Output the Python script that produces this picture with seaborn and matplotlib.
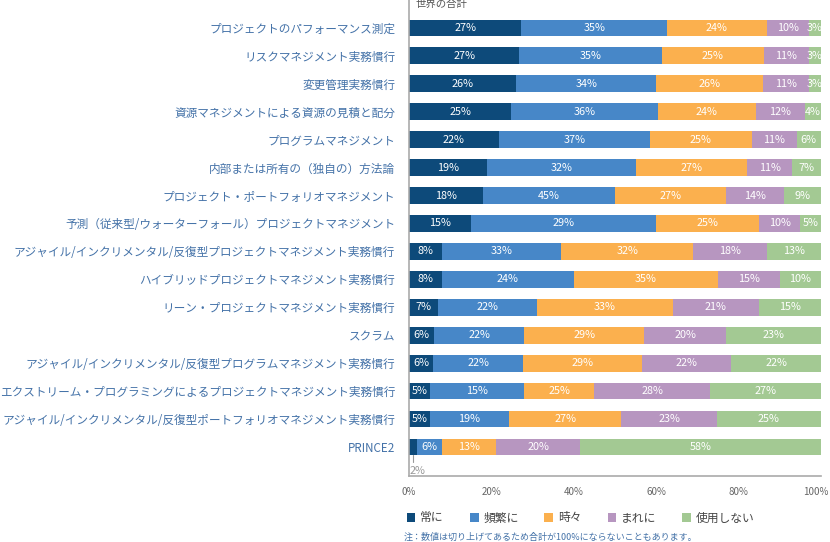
import matplotlib
matplotlib.use("Agg")
import numpy as np
import pandas as pd
import seaborn as sns
import matplotlib.pyplot as plt
from matplotlib.patches import Patch
from matplotlib.transforms import ScaledTranslation

categories = [
    "プロジェクトのパフォーマンス測定",
    "リスクマネジメント実務慣行",
    "変更管理実務慣行",
    "資源マネジメントによる資源の見積と配分",
    "プログラムマネジメント",
    "内部または所有の（独自の）方法論",
    "プロジェクト・ポートフォリオマネジメント",
    "予測（従来型/ウォーターフォール）プロジェクトマネジメント",
    "アジャイル/インクリメンタル/反復型プロジェクトマネジメント実務慣行",
    "ハイブリッドプロジェクトマネジメント実務慣行",
    "リーン・プロジェクトマネジメント実務慣行",
    "スクラム",
    "アジャイル/インクリメンタル/反復型プログラムマネジメント実務慣行",
    "エクストリーム・プログラミングによるプロジェクトマネジメント実務慣行",
    "アジャイル/インクリメンタル/反復型ポートフォリオマネジメント実務慣行",
    "PRINCE2",
]
series_names = ["常に", "頻繁に", "時々", "まれに", "使用しない"]

# bar lengths as drawn (percent)
always     = [27, 27, 26, 25, 22, 19, 18, 15,  8,  8,  7,  6,  6,  5,  5,  2]
frequently = [35, 35, 34, 36, 37, 36, 32, 45, 29, 32, 24, 22, 22, 23, 19,  6]
sometimes  = [24, 25, 26, 24, 25, 27, 27, 25, 32, 35, 33, 29, 29, 17, 27, 13]
rarely     = [10, 11, 11, 12, 11, 11, 14, 10, 18, 15, 21, 20, 22, 28, 23, 20]
never      = [ 3,  3,  3,  4,  6,  7,  9,  5, 13, 10, 15, 23, 22, 27, 25, 58]

# percentages printed on the bars (they differ from bar lengths in a few cells)
frequently_labels = [35, 35, 34, 36, 37, 32, 45, 29, 33, 24, 22, 22, 22, 15, 19, 6]
sometimes_labels  = [24, 25, 26, 24, 25, 27, 27, 25, 32, 35, 33, 29, 29, 25, 27, 13]

x_ticks = [0, 20, 40, 60, 80, 100]
title_text = "世界の合計"
note_text = "注：数値は切り上げてあるため合計が100%にならないこともあります。"

colors = ["#0d4a7a", "#4787c8", "#fbb04e", "#b796c0", "#a3c993"]
label_color = "#4472a8"
gray = "#666666"

sns.set_theme(style="white")
plt.rcParams["font.family"] = ["Noto Sans CJK JP", "DejaVu Sans"]

vals = np.array([always, frequently, sometimes, rarely, never], dtype=float).T
labels = np.array([always, frequently_labels, sometimes_labels, rarely, never]).T
totals = vals.sum(axis=1, keepdims=True)
share = vals / totals * 100
cum = np.cumsum(share, axis=1)

df = pd.DataFrame({"category": categories})
for i, name in enumerate(series_names):
    df[name] = cum[:, i]

fig = plt.figure(figsize=(8.3, 5.42), dpi=100)
ax = fig.add_axes([409 / 830, 1 - 476 / 542, (821 - 409) / 830, 476 / 542])

for i in range(len(series_names) - 1, -1, -1):
    sns.barplot(data=df, x=series_names[i], y="category", orient="h",
                color=colors[i], width=0.6, saturation=1, ax=ax, linewidth=0)

for r in range(len(categories)):
    for s in range(len(series_names)):
        left = cum[r, s] - share[r, s]
        center = left + share[r, s] / 2
        txt = f"{int(labels[r, s])}%"
        if vals[r, s] < 3:
            ax.plot([center, center], [r + 0.3, r + 0.55], color="#999999", lw=0.8)
            ax.text(left + 0.2, r + 0.85, txt, color="#999999", fontsize=7.8,
                    ha="left", va="center")
        else:
            ax.text(center, r, txt, color="white", fontsize=7.8,
                    ha="center", va="center")

ax.set_xlim(0, 100)
ax.set_ylim(16.04, -1.0)
ax.set_xticks(x_ticks)
ax.set_xticklabels([f"{t}%" for t in x_ticks], color=gray, fontsize=7)
ax.set_xlabel("")
ax.set_ylabel("")
ax.tick_params(axis="y", length=0, pad=10, labelsize=8.4, labelcolor=label_color)
ax.tick_params(axis="x", length=0, pad=8)
for side in ["top", "right"]:
    ax.spines[side].set_visible(False)
for side in ["left", "bottom"]:
    ax.spines[side].set_color("#aaaaaa")
    ax.spines[side].set_linewidth(1.2)

last = ax.get_xticklabels()[-1]
last.set_transform(last.get_transform() + ScaledTranslation(-5 / 100, 0, fig.dpi_scale_trans))

fig.text(415 / 830, 1 - 4 / 542, title_text, fontsize=7.5, color="#555555",
         ha="left", va="center")

handles = [Patch(facecolor=c, edgecolor="none") for c in colors]
fig.legend(handles, series_names, loc="center left", ncol=5,
           bbox_to_anchor=(396 / 830, 1 - 518 / 542), frameon=False,
           fontsize=8.5, handlelength=0.75, handleheight=0.75,
           handletextpad=0.4, columnspacing=2.2, labelcolor="#444444")
fig.text(404 / 830, 1 - 537 / 542, note_text, fontsize=6.5, color=label_color,
         ha="left", va="center")

fig.savefig("out.png", dpi=100)
